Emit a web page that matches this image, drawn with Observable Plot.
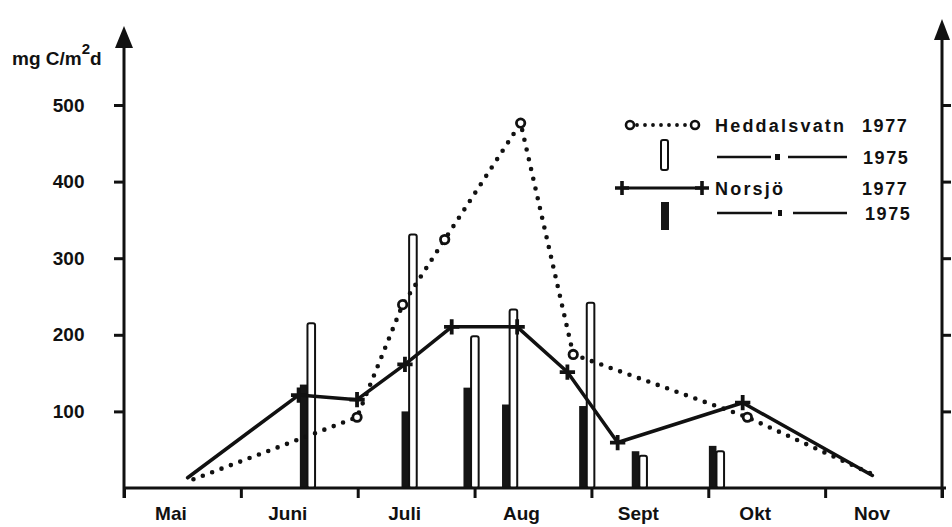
<!DOCTYPE html>
<html><head><meta charset="utf-8">
<script src="https://cdn.jsdelivr.net/npm/d3@7"></script>
<script src="https://cdn.jsdelivr.net/npm/@observablehq/plot@0.6"></script>
<style>
html,body{margin:0;padding:0;background:#fff;}
#chart svg{display:block;}
</style></head><body><div id="chart"></div>
<script>
// Month labels (intervals) and month boundaries (time = months since 1 May)
const monthNames = ["Mai", "Juni", "Juli", "Aug", "Sept", "Okt", "Nov"];
const monthBounds = [0, 1, 2, 3, 4, 5, 6, 7];
const yTicks = [100, 200, 300, 400, 500];

// Heddalsvatn 1977 (dotted line, o markers)
const hedTime1977  = [0.59, 1.99, 2.38, 2.74, 3.39, 3.84, 5.33, 6.38];
const hedValue1977 = [12, 93, 240, 325, 477, 175, 93, 20];

// Norsjö 1977 (solid line, + markers)
const norTime1977  = [0.54, 1.49, 1.99, 2.40, 2.80, 3.36, 3.79, 4.22, 5.29, 6.40];
const norValue1977 = [14, 122, 116, 162, 211, 211, 152, 60, 112, 17];

// 1975 sampling (bars): Heddalsvatn open, Norsjö filled
const time1975 = [1.57, 2.44, 2.97, 3.30, 3.96, 4.41, 5.07];
const hed1975  = [215, 331, 198, 233, 242, 42, 48];
const nor1975  = [135, 100, 131, 109, 107, 48, 55];

const hed = hedTime1977.map((t, i) => ({t, v: hedValue1977[i]}));
const nor = norTime1977.map((t, i) => ({t, v: norValue1977[i]}));
const bars = time1975.map((t, i) => ({t, hed: hed1975[i], nor: nor1975[i]}));
const barW = 0.065;
const FONT = "'Liberation Sans', Arial, sans-serif";
const INK = "#111";

const plot = Plot.plot({
  width: 952, height: 527,
  marginLeft: 124, marginRight: 10, marginTop: 105, marginBottom: 39,
  x: {domain: [0, 7]},
  y: {domain: [0, 500]},
  style: {fontFamily: FONT, fontWeight: "bold", fontSize: "19px", background: "#fff", color: INK, overflow: "visible"},
  marks: [
    Plot.rectY(bars, {x1: d => d.t - barW, x2: "t", y1: 0, y2: "nor", fill: "#151515"}),
    Plot.rectY(bars, {x1: "t", x2: d => d.t + barW, y1: 0, y2: "hed", fill: "white", stroke: INK, strokeWidth: 2, rx: 2}),
    Plot.line(hed, {x: "t", y: "v", stroke: INK, strokeWidth: 4.6, strokeDasharray: "0 10", strokeLinecap: "round"}),
    Plot.line(nor, {x: "t", y: "v", stroke: INK, strokeWidth: 3.5}),
    Plot.dot(hed.slice(1, -1), {x: "t", y: "v", r: 4.2, fill: "white", stroke: INK, strokeWidth: 2.8}),
    Plot.dot(nor.slice(1, -1), {x: "t", y: "v", symbol: "plus", r: 5, stroke: INK, strokeWidth: 3.8}),
    Plot.axisY({ticks: yTicks, tickSize: 10, tickPadding: 30, strokeWidth: 3, label: null}),
    Plot.axisY({anchor: "right", ticks: yTicks, tickSize: 8, strokeWidth: 3, tickFormat: () => "", label: null}),
    Plot.axisX({ticks: monthBounds, tickSize: 10, strokeWidth: 3, tickFormat: () => "", label: null}),
    Plot.axisX({ticks: monthBounds.slice(0, -1).map(m => m + 0.5), tickSize: 0, tickPadding: 18,
                tickFormat: d => monthNames[Math.floor(d)], dx: -12, label: null})
  ]
});

document.getElementById("chart").appendChild(plot);

// Axis lines with arrowheads
const svg = d3.select(plot);
const xs = plot.scale("x"), ys = plot.scale("y");
const x0 = xs.apply(0), x7 = xs.apply(7), y0 = ys.apply(0);
const ax = svg.append("g").attr("fill", INK).attr("stroke", INK);
ax.append("line").attr("x1", x0).attr("x2", x7 + 4).attr("y1", y0).attr("y2", y0).attr("stroke-width", 3);
ax.append("line").attr("x1", x0).attr("x2", x0).attr("y1", y0 + 10).attr("y2", 46).attr("stroke-width", 3);
ax.append("path").attr("d", `M${x0},26L${x0 - 9},48L${x0 + 9},48Z`).attr("stroke", "none");
ax.append("line").attr("x1", x7).attr("x2", x7).attr("y1", y0 + 10).attr("y2", 38).attr("stroke-width", 3);
ax.append("path").attr("d", `M${x7},19L${x7 - 8},40L${x7 + 8},40Z`).attr("stroke", "none");

// Unit label
const ttl = svg.append("text").attr("x", 12).attr("y", 65).attr("text-anchor", "start")
  .attr("font-family", FONT).attr("font-weight", "bold").attr("font-size", 19).attr("fill", INK);
ttl.append("tspan").text("mg C/m");
ttl.append("tspan").attr("dy", -11).attr("font-size", 15).text("2");
ttl.append("tspan").attr("dy", 11).text("d");

// Legend
const lg = svg.append("g").attr("font-family", FONT).attr("font-weight", "bold").attr("text-anchor", "start")
  .attr("font-size", 18).attr("letter-spacing", "1.6px").attr("fill", INK);
// row 1
lg.append("line").attr("x1", 637).attr("x2", 689).attr("y1", 125).attr("y2", 125)
  .attr("stroke", INK).attr("stroke-width", 3.8).attr("stroke-dasharray", "0 8").attr("stroke-linecap", "round");
[630, 695].forEach(cx => lg.append("circle").attr("cx", cx).attr("cy", 125).attr("r", 4)
  .attr("fill", "white").attr("stroke", INK).attr("stroke-width", 2.6));
lg.append("text").attr("x", 715).attr("y", 132).attr("letter-spacing", "2.2px").text("Heddalsvatn");
lg.append("text").attr("x", 862).attr("y", 132).text("1977");
// row 2
lg.append("rect").attr("x", 661).attr("y", 140).attr("width", 7).attr("height", 30).attr("rx", 2)
  .attr("fill", "white").attr("stroke", INK).attr("stroke-width", 2);
lg.append("line").attr("x1", 717).attr("x2", 771).attr("y1", 157).attr("y2", 157).attr("stroke", INK).attr("stroke-width", 2.5);
lg.append("rect").attr("x", 775).attr("y", 154).attr("width", 5).attr("height", 6).attr("fill", INK);
lg.append("line").attr("x1", 788).attr("x2", 847).attr("y1", 157).attr("y2", 157).attr("stroke", INK).attr("stroke-width", 2.5);
lg.append("text").attr("x", 863).attr("y", 164).text("1975");
// row 3
lg.append("line").attr("x1", 622).attr("x2", 702).attr("y1", 188).attr("y2", 188).attr("stroke", INK).attr("stroke-width", 3);
[622, 702].forEach(cx => lg.append("path").attr("d", `M${cx - 7},188H${cx + 7}M${cx},181V195`)
  .attr("stroke", INK).attr("stroke-width", 3.6));
lg.append("text").attr("x", 715).attr("y", 195).attr("letter-spacing", "2.2px").text("Norsjö");
lg.append("text").attr("x", 862).attr("y", 195).text("1977");
// row 4
lg.append("rect").attr("x", 661).attr("y", 202).attr("width", 8).attr("height", 28).attr("fill", "#151515");
lg.append("line").attr("x1", 717).attr("x2", 772).attr("y1", 213).attr("y2", 213).attr("stroke", INK).attr("stroke-width", 2.5);
lg.append("rect").attr("x", 778).attr("y", 210).attr("width", 4).attr("height", 6).attr("fill", INK);
lg.append("line").attr("x1", 793).attr("x2", 847).attr("y1", 213).attr("y2", 213).attr("stroke", INK).attr("stroke-width", 2.5);
lg.append("text").attr("x", 865).attr("y", 220).text("1975");
</script>
</body></html>
